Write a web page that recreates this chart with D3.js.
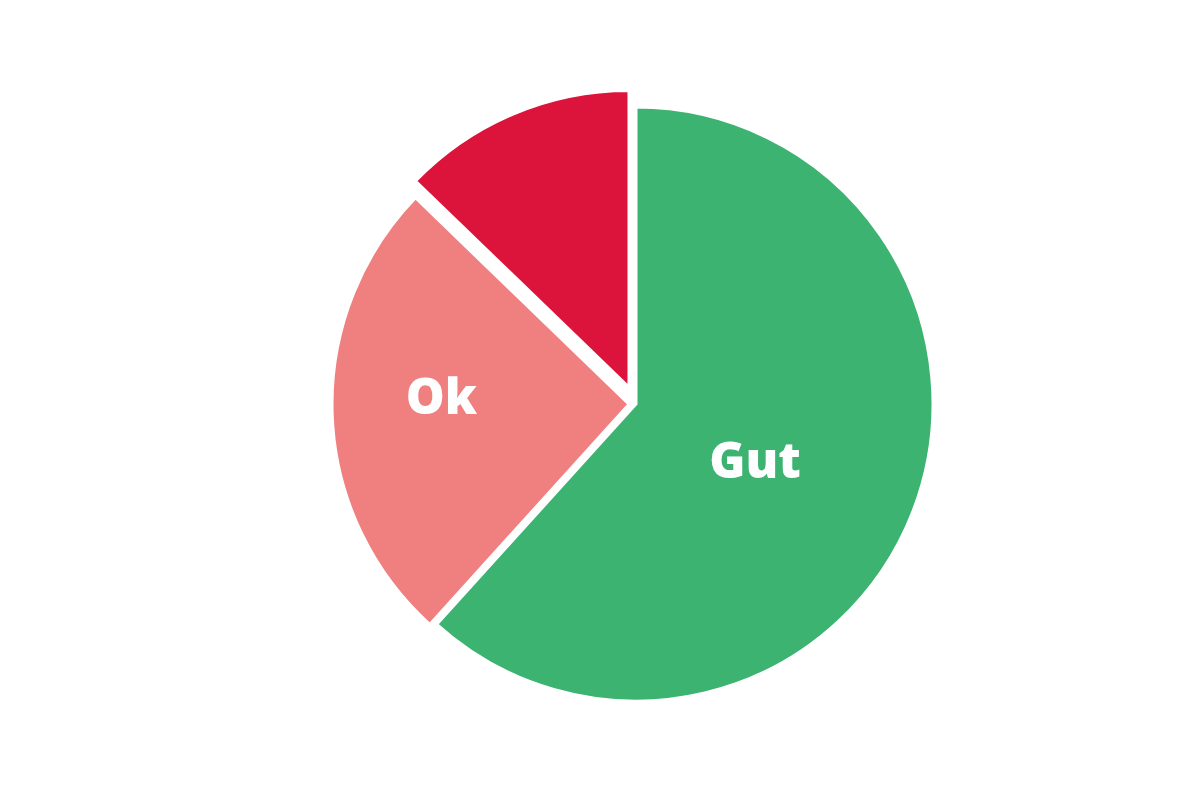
<!DOCTYPE html>
<html>
<head>
<meta charset="utf-8">
<script src="https://cdn.jsdelivr.net/npm/d3@7/dist/d3.min.js"></script>
<style>
  html, body { margin: 0; padding: 0; background: #ffffff; }
  svg { display: block; }
</style>
</head>
<body>
<svg id="chart" width="1200" height="800"></svg>
<script>
// ---- data ----
const categories = ["Gut", "Ok", "Schlecht"];
const values = [29, 12, 6];
const colors = ["#3CB371", "#F08080", "#DC143C"];
const showLabel = [true, true, false];

// ---- layout ----
const width = 1200, height = 800;
const cx = 636, cy = 404;
const radius = 297;
const sliceOffsets = [0, 7, 18];       // pull-out distance per slice
const labelRadiusFrac = [0.444, 0.632, 0.6];
const labelAngleShift = 4.4 * Math.PI / 180;

const svg = d3.select("#chart");
const g = svg.append("g").attr("transform", `translate(${cx},${cy})`);

const pie = d3.pie().sort(null).value(d => d.value).startAngle(0).endAngle(2 * Math.PI);
const data = categories.map((c, i) => ({ name: c, value: values[i], i }));
const arcs = pie(data);

const arc = d3.arc().innerRadius(0).outerRadius(radius);

const slices = g.selectAll("g.slice")
  .data(arcs)
  .enter().append("g")
  .attr("class", "slice")
  .attr("transform", d => {
    const mid = (d.startAngle + d.endAngle) / 2;
    const o = sliceOffsets[d.data.i];
    return `translate(${Math.sin(mid) * o},${-Math.cos(mid) * o})`;
  });

slices.append("path")
  .attr("d", arc)
  .attr("fill", d => colors[d.data.i])
  .attr("stroke", "#ffffff")
  .attr("stroke-width", 3)
  .attr("stroke-linejoin", "miter");

slices.filter(d => showLabel[d.data.i])
  .append("text")
  .attr("x", d => {
    const a = (d.startAngle + d.endAngle) / 2 + labelAngleShift;
    return Math.sin(a) * radius * labelRadiusFrac[d.data.i];
  })
  .attr("y", d => {
    const a = (d.startAngle + d.endAngle) / 2 + labelAngleShift;
    return -Math.cos(a) * radius * labelRadiusFrac[d.data.i];
  })
  .attr("dy", "0.357em")
  .attr("text-anchor", "middle")
  .attr("fill", "#ffffff")
  .style("font-family", "'Open Sans', 'DejaVu Sans', sans-serif")
  .style("font-weight", 800)
  .style("font-size", "49px")
  .text(d => d.data.name);
</script>
</body>
</html>
